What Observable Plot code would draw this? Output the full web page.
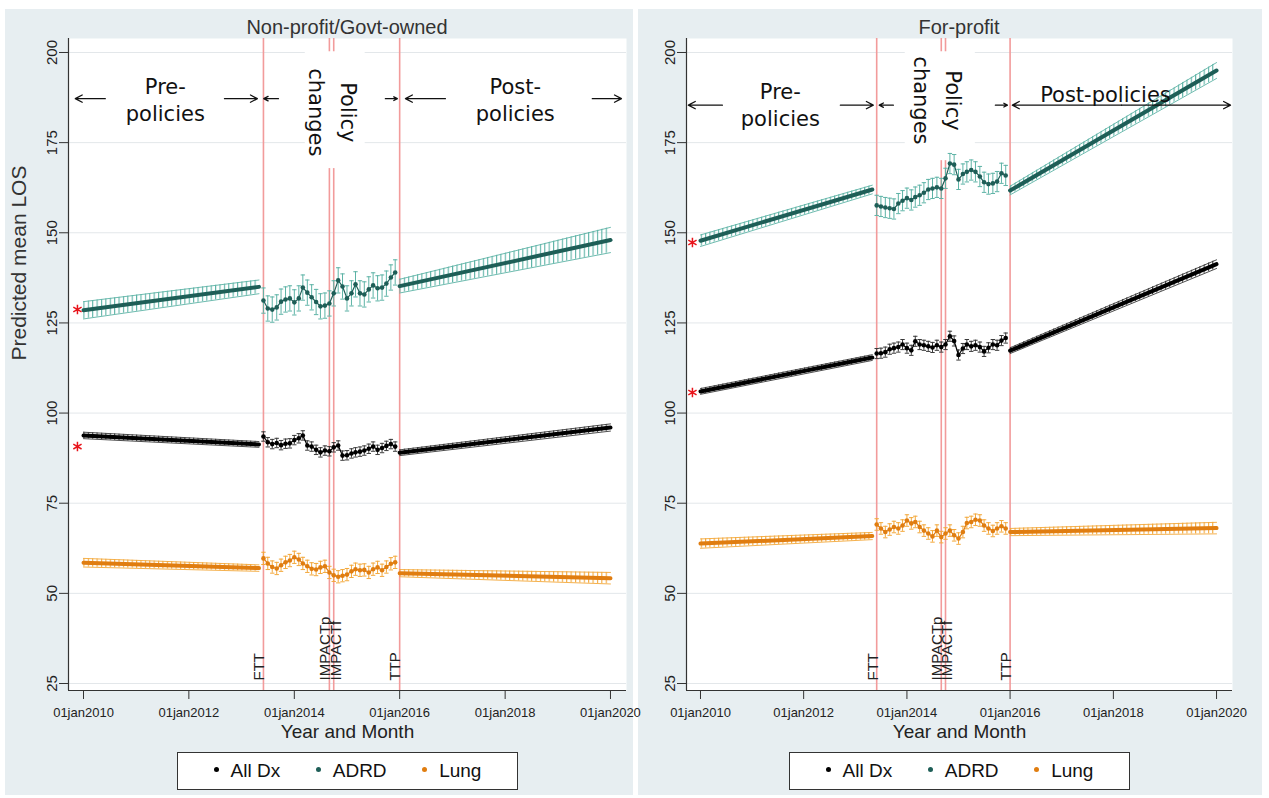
<!DOCTYPE html>
<html><head><meta charset="utf-8">
<script src="https://cdn.jsdelivr.net/npm/d3@7"></script>
<script src="https://cdn.jsdelivr.net/npm/@observablehq/plot@0.6"></script>
<style>
body{margin:0;background:#fff;font-family:"Liberation Sans",Arial,sans-serif;}
#root{position:relative;width:1269px;height:798px;overflow:hidden;background:#fff}
.panel{position:absolute;top:9px;height:786px;background:#e7eef1;z-index:0}
.title{position:absolute;top:16px;width:300px;font-size:20px;line-height:22px;color:#333;text-align:center;z-index:1}
.svgbox{position:absolute;top:38px;z-index:2}
.legend{position:absolute;top:752px;width:339px;height:36px;background:#fff;border:1px solid #333;display:flex;align-items:center;justify-content:space-evenly;font-size:19px;color:#111;z-index:3}
.legend span.d{display:inline-block;width:5px;height:5px;border-radius:50%;margin-right:12px;vertical-align:middle;position:relative;top:-2px}
</style></head>
<body><div id="root"></div>
<script>
// ---------- data ----------
const seriesNames = ["All Dx", "ADRD", "Lung"];
const seriesDot = ["#000000", "#1e5e57", "#e07d10"];
const seriesCI = ["#3a3a3a", "#5db3a6", "#f3a83b"];
const yTicks = [25, 50, 75, 100, 125, 150, 175, 200];
const xTickDates = ["2010-01-01", "2012-01-01", "2014-01-01", "2016-01-01", "2018-01-01", "2020-01-01"];
const preDates = ["2010-01-01", "2013-05-01"];
const postDates = ["2016-01-01", "2020-01-01"];
const policyMonths = ["2013-06","2013-07","2013-08","2013-09","2013-10","2013-11","2013-12",
  "2014-01","2014-02","2014-03","2014-04","2014-05","2014-06","2014-07","2014-08","2014-09","2014-10","2014-11","2014-12",
  "2015-01","2015-02","2015-03","2015-04","2015-05","2015-06","2015-07","2015-08","2015-09","2015-10","2015-11","2015-12"];
const events = [
  {date: "2013-06-01", label: "FTT"},
  {date: "2014-09-01", label: "IMPACTp"},
  {date: "2014-10-01", label: "IMPACTf"},
  {date: "2016-01-01", label: "TTP"}
];

// Non-profit / Govt-owned
const npTitle = "Non-profit/Govt-owned";
const npPre = [[93.8, 91.3], [128.5, 135.0], [58.5, 57.0]];
const npPost = [[89.0, 96.0], [135.2, 148.0], [55.6, 54.2]];
const npPreCI = [[0.9, 0.8], [2.4, 1.9], [1.2, 0.9]];
const npPostCI = [[0.8, 1.0], [1.9, 3.5], [1.0, 1.6]];
const npPolicyCI = [1.3, 3.5, 1.7];
const npPolicyAll = [93.5,91.9,91.4,91.7,91.1,91.5,91.6,92.5,93.0,93.8,91.0,90.7,89.8,89.1,89.6,89.4,90.5,91.0,88.2,88.3,88.8,89.1,89.3,89.6,90.1,90.7,89.8,90.3,90.9,91.4,90.7];
const npPolicyADRD = [131.2,129.0,128.7,129.3,130.9,131.5,131.8,130.7,131.8,134.8,133.4,132.1,130.8,129.6,129.8,130.4,133.2,136.8,135.1,131.8,133.2,135.7,133.2,132.9,134.3,135.4,134.6,134.8,135.9,137.6,139.0];
const npPolicyLung = [59.7,58.3,57.3,56.9,57.8,58.6,59.1,60.0,59.4,58.3,57.5,56.8,56.6,57.2,57.5,55.8,55.0,54.6,54.9,55.2,56.1,56.7,56.4,56.5,55.8,56.7,57.2,56.4,57.3,58.2,58.6];
const npStars = [{date: "2009-11-20", v: 128.7}, {date: "2009-11-20", v: 90.7}];
const npXDomain = ["2009-09-19", "2020-04-21"];
const npArrows = [
  {x1: "2010-06-01", x2: "2009-11-05", y: 187.2},
  {x1: "2012-09-04", x2: "2013-04-20", y: 187.2},
  {x1: "2013-09-13", x2: "2013-06-03", y: 187.2},
  {x1: "2015-09-24", x2: "2015-12-16", y: 187.2},
  {x1: "2016-11-13", x2: "2016-02-10", y: 187.2},
  {x1: "2019-08-28", x2: "2020-03-17", y: 187.2}
];
const npPhases = [
  {date: "2011-07-22", v: 187.1, text: "Pre-\npolicies"},
  {date: "2018-03-12", v: 187.1, text: "Post-\npolicies"}
];
const npPolicyText = [{date: "2014-10-12", v: 183.4, text: "Policy\nchanges"}];
const npBox = [{x1: "2014-03-18", x2: "2015-05-07", y1: 167.8, y2: 200.2}];

// For-profit
const fpTitle = "For-profit";
const fpPre = [[106.0, 115.4], [147.8, 162.0], [63.8, 65.9]];
const fpPost = [[117.3, 141.3], [161.7, 195.0], [67.0, 68.1]];
const fpPreCI = [[0.8, 0.8], [1.6, 1.2], [1.3, 1.0]];
const fpPostCI = [[0.8, 1.2], [1.2, 2.2], [1.0, 1.6]];
const fpPolicyCI = [1.4, 2.8, 1.6];
const fpPolicyAll = [116.5,116.6,116.9,117.7,118.0,118.3,119.0,118.0,117.4,119.9,119.0,118.8,118.5,118.2,118.8,118.3,119.0,121.3,120.0,116.1,117.9,119.0,118.5,118.8,118.3,117.1,118.1,119.0,118.8,120.1,120.8];
const fpPolicyADRD = [157.6,157.3,157.0,156.8,156.6,158.1,158.9,159.6,159.1,159.9,160.4,161.1,162.0,162.3,162.6,162.3,165.1,169.2,168.9,164.8,166.3,166.9,167.4,166.9,165.6,164.0,163.5,163.7,164.2,166.5,165.9];
const fpPolicyLung = [69.1,68.0,67.0,67.7,68.4,68.0,68.8,70.2,69.4,69.8,68.4,67.4,66.6,65.8,67.4,65.6,66.6,67.4,66.1,65.2,67.0,69.5,69.8,70.4,70.2,68.8,68.0,67.3,68.0,68.6,68.0];
const fpStars = [{date: "2009-11-05", v: 147.3}, {date: "2009-11-05", v: 105.7}];
const fpXDomain = ["2009-09-24", "2020-04-23"];
const fpArrows = [
  {x1: "2010-06-05", x2: "2009-10-07", y: 185.4},
  {x1: "2012-09-17", x2: "2013-05-08", y: 185.4},
  {x1: "2013-09-27", x2: "2013-06-19", y: 185.4},
  {x1: "2015-09-19", x2: "2015-12-13", y: 185.4},
  {x1: "2018-02-28", x2: "2016-01-17", y: 185.4},
  {x1: "2018-02-28", x2: "2020-04-09", y: 185.4}
];
const fpPhases = [
  {date: "2011-07-20", v: 185.8, text: "Pre-\npolicies"},
  {date: "2017-11-06", v: 188.8, text: "Post-policies"}
];
const fpPolicyText = [{date: "2014-08-25", v: 186.7, text: "Policy\nchanges"}];
const fpBox = [{x1: "2013-12-20", x2: "2015-04-30", y1: 170.0, y2: 200.2}];

const yDomain = [23.06, 203.88];

// ---------- drawing ----------
const D = s => new Date(s);
const capSymbol = {draw(ctx, size) { const r = Math.sqrt(size / Math.PI); ctx.moveTo(-r, 0); ctx.lineTo(r, 0); }};

function buildPanel(cfg) {
  const pol = [], seg = [];
  seriesNames.forEach((name, i) => {
    cfg.policy[i].forEach((v, j) => pol.push({name, i, date: D(policyMonths[j] + "-01"), v, lo: v - cfg.policyCI[i], hi: v + cfg.policyCI[i]}));
    cfg.pre[i].forEach((v, j) => seg.push({key: name + "pre", i, date: D(preDates[j]), v, lo: v - cfg.preCI[i][j], hi: v + cfg.preCI[i][j]}));
    cfg.post[i].forEach((v, j) => seg.push({key: name + "post", i, date: D(postDates[j]), v, lo: v - cfg.postCI[i][j], hi: v + cfg.postCI[i][j]}));
  });
  const id = cfg.id;
  const xDom = cfg.xDomain.map(D);
  const marks = [
    Plot.frame({fill: "white", stroke: null}),
    Plot.gridY(yTicks, {stroke: "#e3e7ea", strokeOpacity: 1}),
    Plot.ruleX(events, {x: d => D(d.date), stroke: "#f29b9b", strokeWidth: 1.6}),
    Plot.rect(cfg.box, {x1: d => D(d.x1), x2: d => D(d.x2), y1: "y1", y2: "y2", fill: "white"}),
    Plot.areaY(seg, {x: "date", y1: "lo", y2: "hi", z: "key", fill: d => `url(#${id}h${d.i})`}),
    Plot.line(seg, {x: "date", y: "lo", z: "key", stroke: d => seriesCI[d.i], strokeWidth: 0.9}),
    Plot.line(seg, {x: "date", y: "hi", z: "key", stroke: d => seriesCI[d.i], strokeWidth: 0.9}),
    Plot.line(seg, {x: "date", y: "v", z: "key", stroke: d => seriesDot[d.i], strokeWidth: 4}),
    Plot.ruleX(pol, {x: "date", y1: "lo", y2: "hi", stroke: d => seriesCI[d.i], strokeWidth: 1}),
    Plot.dot(pol, {x: "date", y: "hi", symbol: capSymbol, r: 2.2, stroke: d => seriesCI[d.i], strokeWidth: 1}),
    Plot.dot(pol, {x: "date", y: "lo", symbol: capSymbol, r: 2.2, stroke: d => seriesCI[d.i], strokeWidth: 1}),
    Plot.line(pol, {x: "date", y: "v", z: "name", stroke: d => seriesDot[d.i], strokeWidth: 1.2}),
    Plot.dot(pol, {x: "date", y: "v", r: 2.3, fill: d => seriesDot[d.i]}),
    Plot.dot(cfg.stars, {x: d => D(d.date), y: "v", symbol: "asterisk", r: 4.5, stroke: "#e8141b", strokeWidth: 1.5}),
    Plot.text(events.filter(e => e.label !== "IMPACTf"), {x: d => D(d.date), text: "label", frameAnchor: "bottom", dy: -10, dx: -4, rotate: -90, textAnchor: "start", lineAnchor: "middle", fontSize: 15, fill: "#222"}),
    Plot.text(events.filter(e => e.label === "IMPACTf"), {x: d => D(d.date), text: "label", frameAnchor: "bottom", dy: -10, dx: 2, rotate: -90, textAnchor: "start", lineAnchor: "middle", fontSize: 15, fill: "#222"}),
    Plot.arrow(cfg.arrows, {x1: d => D(d.x1), x2: d => D(d.x2), y1: "y", y2: "y", headLength: 9, headAngle: 55, strokeWidth: 1.3, stroke: "#111"}),
    Plot.text(cfg.phases, {x: d => D(d.date), y: "v", text: "text", fontSize: 21, lineHeight: 1.29, fontFamily: "DejaVu Sans", fill: "#111"}),
    Plot.text(cfg.policyText, {x: d => D(d.date), y: "v", text: "text", rotate: 90, fontSize: 21, lineHeight: 1.55, fontFamily: "DejaVu Sans", fill: "#111"}),
    Plot.ruleX([xDom[0]], {stroke: "#333", strokeWidth: 1.2}),
    Plot.ruleY([yDomain[0]], {stroke: "#333", strokeWidth: 1.2}),
    Plot.axisY(yTicks, {tickSize: 9, tickPadding: 3, tickRotate: -90, fontSize: 15, label: null, fill: "#222", stroke: "#333"}),
    Plot.axisX(xTickDates.map(D), {tickSize: 9, tickPadding: 8, fontSize: 13, tickFormat: d => "01jan" + d.getUTCFullYear(), label: null, fill: "#222", stroke: "#333"}),
    Plot.text(["Year and Month"], {text: d => d, frameAnchor: "bottom", dy: 47, fontSize: 19, fill: "#222"})
  ];
  if (cfg.yTitle) marks.push(Plot.text([cfg.yTitle], {text: d => d, frameAnchor: "left", dx: -49, dy: -4, rotate: -90, fontSize: 21, fill: "#333"}));
  const svg = Plot.plot({
    width: cfg.width, height: 712,
    marginLeft: cfg.marginLeft, marginRight: cfg.marginRight, marginTop: 0, marginBottom: 60,
    x: {type: "utc", domain: xDom},
    y: {domain: yDomain},
    color: {type: "identity"},
    style: {background: "transparent", fontFamily: "'Liberation Sans', Arial, sans-serif", overflow: "visible"},
    marks
  });
  const xs = svg.scale("x");
  const mpx = (xs.apply(D("2011-01-01")) - xs.apply(D("2010-01-01"))) / 12;
  const defs = d3.select(svg).insert("defs", ":first-child");
  seriesCI.forEach((c, i) => {
    const p = defs.append("pattern").attr("id", `${id}h${i}`).attr("patternUnits", "userSpaceOnUse").attr("width", mpx).attr("height", 8);
    p.append("rect").attr("x", 0).attr("y", 0).attr("width", 1.1).attr("height", 8).attr("fill", c);
  });
  return svg;
}

const root = document.getElementById("root");
function addPanel(cfg) {
  const bg = document.createElement("div");
  bg.className = "panel"; bg.style.left = cfg.bgLeft + "px"; bg.style.width = cfg.bgWidth + "px";
  root.appendChild(bg);
  const t = document.createElement("div");
  t.className = "title"; t.textContent = cfg.title; t.style.left = (cfg.center - 150) + "px";
  root.appendChild(t);
  const box = document.createElement("div");
  box.className = "svgbox"; box.style.left = cfg.left + "px";
  box.appendChild(buildPanel(cfg));
  root.appendChild(box);
  const lg = document.createElement("div");
  lg.className = "legend"; lg.style.left = (cfg.center - 170) + "px";
  seriesNames.forEach((n, i) => {
    const it = document.createElement("div");
    it.innerHTML = `<span class="d" style="background:${seriesDot[i]}"></span>${n}`;
    lg.appendChild(it);
  });
  root.appendChild(lg);
}

addPanel({id: "np", title: npTitle, yTitle: "Predicted mean LOS", left: 0, width: 632, marginLeft: 68, marginRight: 6, center: 347, bgLeft: 5, bgWidth: 628,
  pre: npPre, post: npPost, preCI: npPreCI, postCI: npPostCI, policyCI: npPolicyCI,
  policy: [npPolicyAll, npPolicyADRD, npPolicyLung], stars: npStars, xDomain: npXDomain,
  arrows: npArrows, phases: npPhases, policyText: npPolicyText, box: npBox});
addPanel({id: "fp", title: fpTitle, yTitle: null, left: 632, width: 637, marginLeft: 54, marginRight: 37, center: 959, bgLeft: 638, bgWidth: 624,
  pre: fpPre, post: fpPost, preCI: fpPreCI, postCI: fpPostCI, policyCI: fpPolicyCI,
  policy: [fpPolicyAll, fpPolicyADRD, fpPolicyLung], stars: fpStars, xDomain: fpXDomain,
  arrows: fpArrows, phases: fpPhases, policyText: fpPolicyText, box: fpBox});
</script></body></html>
